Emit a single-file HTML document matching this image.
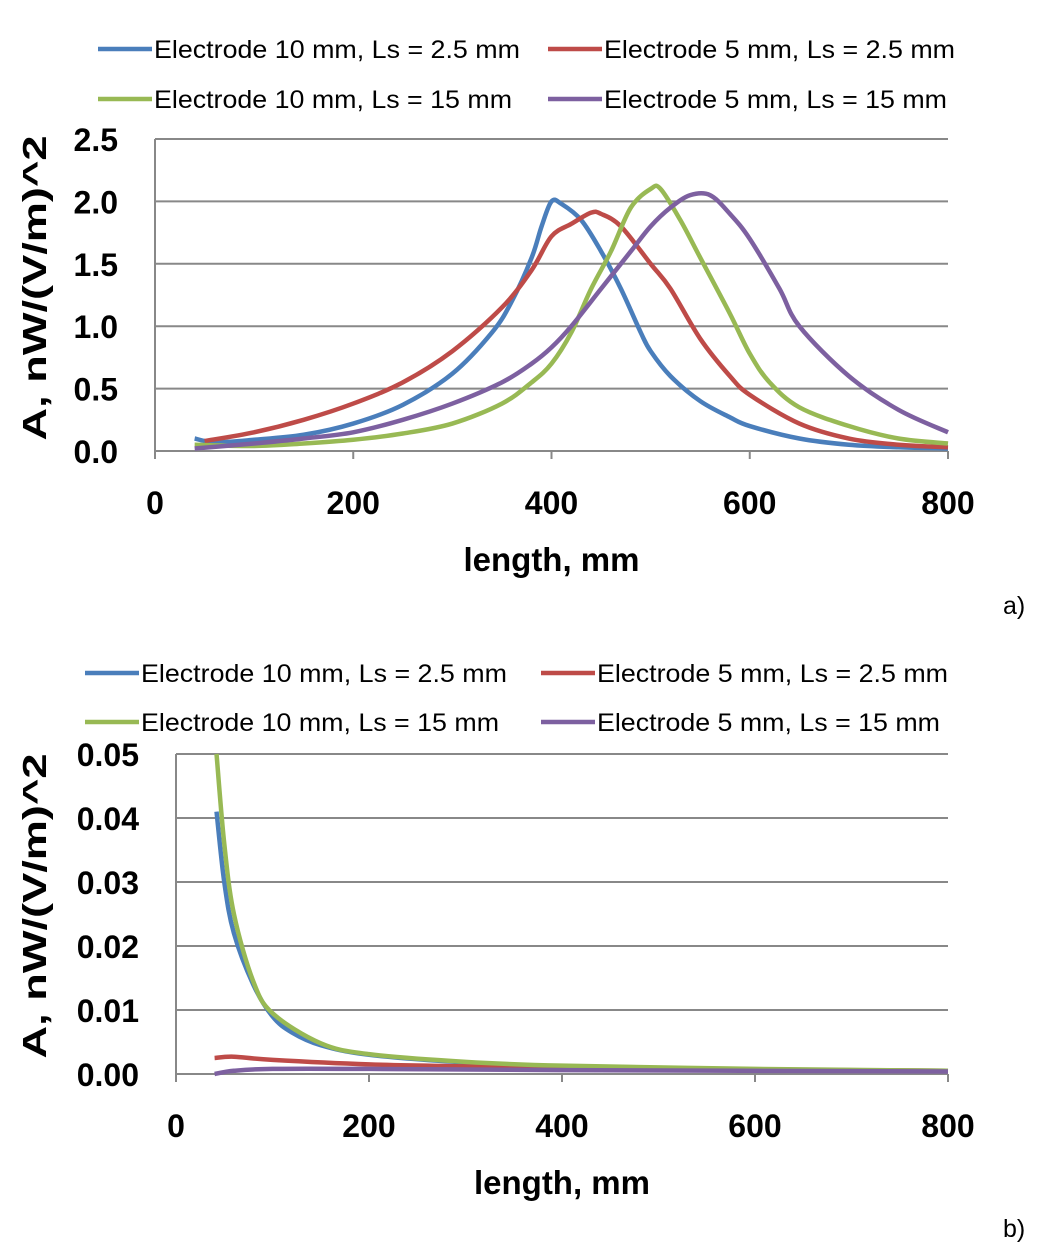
<!DOCTYPE html>
<html><head><meta charset="utf-8"><style>
body{margin:0;background:#fff;width:1048px;height:1250px;overflow:hidden}
svg text{font-family:"Liberation Sans","DejaVu Sans",sans-serif}
</style></head><body>
<svg id="s" width="1048" height="1250">
<text x="1003" y="614" font-family="Liberation Serif" font-size="25">a)</text>
<text x="1003" y="1237" font-family="Liberation Serif" font-size="25">b)</text>
</svg>
<script>
const xTicks=[0,200,400,600,800];
const seriesNames=["Electrode 10 mm, Ls = 2.5 mm","Electrode 5 mm, Ls = 2.5 mm","Electrode 10 mm, Ls = 15 mm","Electrode 5 mm, Ls = 15 mm"];
const legendWidths=[366,351,358,343];
const colors=["#4a7ebb","#be4b48","#98b954","#7d60a0"];
// chart a
const aYTicks=[0,0.5,1.0,1.5,2.0,2.5];
const aBlueX=[40,60,100,150,200,250,300,340,360,380,390,400,410,430,450,470,490,500,520,550,580,600,650,700,750,800];
const aBlueY=[0.10,0.07,0.09,0.13,0.22,0.37,0.62,0.95,1.2,1.55,1.8,2.0,1.98,1.85,1.6,1.3,0.95,0.8,0.6,0.4,0.27,0.2,0.1,0.05,0.03,0.02];
const aRedX=[50,100,150,200,250,300,350,380,400,420,440,450,470,500,520,550,580,600,650,700,750,800];
const aRedY=[0.08,0.15,0.25,0.38,0.55,0.8,1.15,1.45,1.72,1.82,1.91,1.9,1.8,1.5,1.3,0.9,0.6,0.45,0.22,0.1,0.05,0.03];
const aGreenX=[40,100,150,200,250,300,350,380,400,420,440,460,480,500,510,530,550,580,600,620,650,700,750,800];
const aGreenY=[0.05,0.04,0.06,0.09,0.14,0.22,0.38,0.55,0.7,0.95,1.3,1.6,1.95,2.1,2.1,1.85,1.55,1.1,0.78,0.55,0.35,0.2,0.1,0.06];
const aPurpleX=[40,100,150,200,250,300,350,380,400,420,450,480,500,520,540,560,580,600,630,650,700,750,800];
const aPurpleY=[0.02,0.06,0.1,0.15,0.25,0.38,0.55,0.7,0.83,1.0,1.3,1.6,1.8,1.95,2.05,2.05,1.9,1.7,1.3,1.0,0.6,0.33,0.15];
// chart b
const bYTicks=[0,0.01,0.02,0.03,0.04,0.05];
const bBlueX=[42,50,60,80,100,120,150,200,300,400,600,800];
const bBlueY=[0.041,0.03,0.022,0.014,0.009,0.0065,0.0045,0.003,0.0018,0.0012,0.0007,0.0005];
const bRedX=[40,60,100,200,300,400,600,800];
const bRedY=[0.0025,0.0027,0.0022,0.0015,0.0012,0.001,0.0007,0.0005];
const bGreenX=[42,50,60,80,100,150,200,300,400,600,800];
const bGreenY=[0.05,0.036,0.025,0.0145,0.0095,0.0048,0.0031,0.0019,0.0013,0.0008,0.0005];
const bPurpleX=[40,60,100,200,400,800];
const bPurpleY=[0.0,0.0005,0.0008,0.0008,0.0006,0.0004];

const NS="http://www.w3.org/2000/svg",svg=document.getElementById('s');
function mk(t,a,p){const e=document.createElementNS(NS,t);for(const k in a)e.setAttribute(k,a[k]);(p||svg).appendChild(e);return e;}
function path(pts){let d=`M${pts[0][0]},${pts[0][1]}`;for(let i=0;i<pts.length-1;i++){const p0=pts[Math.max(0,i-1)],p1=pts[i],p2=pts[i+1],p3=pts[Math.min(pts.length-1,i+2)];d+=`C${p1[0]+(p2[0]-p0[0])/6},${p1[1]+(p2[1]-p0[1])/6} ${p2[0]-(p3[0]-p1[0])/6},${p2[1]-(p3[1]-p1[1])/6} ${p2[0]},${p2[1]}`;}return d;}
function chart(c){
 const g=mk('g',{});
 const sx=v=>c.x0+(c.x1-c.x0)*v/800, ymax=c.yt[c.yt.length-1], sy=v=>c.y0-(c.y0-c.y1)*v/ymax;
 c.yt.forEach(t=>{const l=mk('line',{x1:c.x0,x2:c.x1,y1:sy(t),y2:sy(t),stroke:'#888','stroke-width':2},g);
  const tx=mk('text',{x:c.x0-37,y:sy(t)+12,'text-anchor':'end','font-size':32,'font-weight':'bold'},g);tx.textContent=t.toFixed(c.dec);});
 mk('line',{x1:c.x0,x2:c.x0,y1:c.y1,y2:c.y0+7,stroke:'#888','stroke-width':2},g);
 xTicks.forEach(t=>{mk('line',{x1:sx(t),x2:sx(t),y1:c.y0,y2:c.y0+8,stroke:'#888','stroke-width':2},g);
  const tx=mk('text',{x:sx(t),y:c.y0+63,'text-anchor':'middle','font-size':32,'font-weight':'bold'},g);tx.textContent=t;});
 const xt=mk('text',{x:(c.x0+c.x1)/2,y:c.y0+120,'text-anchor':'middle','font-size':33,'font-weight':'bold'},g);xt.textContent='length, mm';
 const yt=mk('text',{x:0,y:0,'text-anchor':'middle','font-size':33,'font-weight':'bold',textLength:305,lengthAdjust:'spacingAndGlyphs',transform:`translate(${c.ytx},${c.ytc}) rotate(-90)`},g);yt.textContent='A, nW/(V/m)^2';
 const cp=mk('clipPath',{id:c.name+'c'},g);mk('rect',{x:c.x0,y:c.y1-3,width:c.x1-c.x0+4,height:c.y0-c.y1+6},cp);
 c.series.forEach((s,i)=>{const p=mk('path',{d:path(s[0].map((x,j)=>[sx(x),sy(s[1][j])])),fill:'none',stroke:colors[i],'stroke-width':4.5,'stroke-linejoin':'round','clip-path':`url(#${c.name}c)`},g);});
 seriesNames.forEach((n,i)=>{const lx=c.lx[i%2],ly=c.ly[i<2?0:1];mk('line',{x1:lx,x2:lx+54,y1:ly,y2:ly,stroke:colors[i],'stroke-width':4.5},g);
  const t=mk('text',{x:lx+56,y:ly+9,'font-size':25,textLength:legendWidths[i],lengthAdjust:'spacingAndGlyphs'},g);t.textContent=n;});
}
chart({name:'chart-a',x0:155,x1:948,y0:451,y1:139,yt:aYTicks,dec:1,ytx:46,ytc:288,lx:[98,548],ly:[49,99],
 series:[[aBlueX,aBlueY],[aRedX,aRedY],[aGreenX,aGreenY],[aPurpleX,aPurpleY]]});
chart({name:'chart-b',x0:176,x1:948,y0:1074,y1:754,yt:bYTicks,dec:2,ytx:46,ytc:906,lx:[85,541],ly:[673,722],
 series:[[bBlueX,bBlueY],[bRedX,bRedY],[bGreenX,bGreenY],[bPurpleX,bPurpleY]]});
</script>
</body></html>
